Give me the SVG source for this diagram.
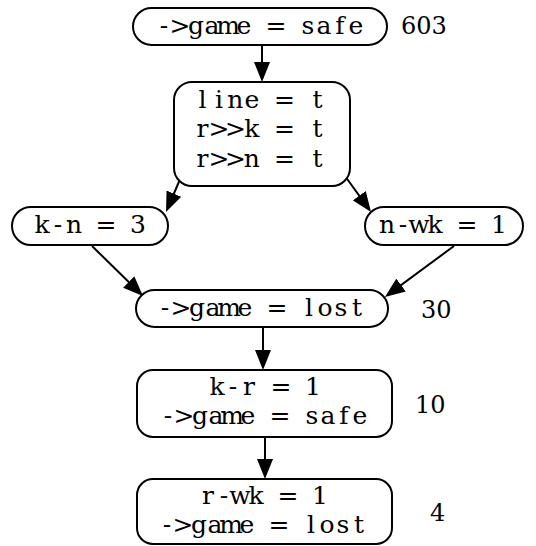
<svg xmlns="http://www.w3.org/2000/svg" width="536" height="546" viewBox="0 0 536 546">
<style>
.n{fill:#fff;stroke:#000;stroke-width:2}
.t{font-family:"DejaVu Serif","Liberation Serif",serif;font-size:25px;fill:#000;text-anchor:middle}
.c{font-family:"DejaVu Serif","Liberation Serif",serif;font-size:24px;fill:#000}
.e{stroke:#000;stroke-width:2;fill:none;marker-end:url(#ah)}
</style>
<defs>
<marker id="ah" markerUnits="userSpaceOnUse" markerWidth="20" markerHeight="16" refX="14" refY="8" orient="auto">
<path d="M0,0 L20,8 L0,16 z" fill="#000"/>
</marker>
</defs>
<rect width="536" height="546" fill="#fff"/>
<g id="edges">
<line class="e" x1="262" y1="45" x2="262" y2="76"/>
<line class="e" x1="181" y1="177" x2="168.4" y2="206.5"/>
<line class="e" x1="345" y1="176" x2="367.5" y2="207.1"/>
<line class="e" x1="92" y1="246" x2="138.7" y2="291.8"/>
<line class="e" x1="454" y1="246" x2="389.8" y2="293.4"/>
<line class="e" x1="263" y1="327" x2="263" y2="364"/>
<line class="e" x1="265" y1="437" x2="265" y2="473"/>
</g>
<g id="n1">
<rect class="n" x="133" y="8" width="254" height="37" rx="18.5"/>
<text class="t" x="164 180 196 212 228 244 260 276 292 308 324 340 356" y="34">-&gt;game = safe</text>
<text class="c" x="401" y="34">603</text>
</g>
<g id="n2">
<rect class="n" x="174" y="82" width="176" height="104" rx="18"/>
<text class="t" x="202.6 219 235.4 251.8 268.2 284.6 301 317.4" y="108">line = t</text>
<text class="t" x="202.6 219 235.4 251.8 268.2 284.6 301 317.4" y="137">r&gt;&gt;k = t</text>
<text class="t" x="202.6 219 235.4 251.8 268.2 284.6 301 317.4" y="167">r&gt;&gt;n = t</text>
</g>
<g id="n3">
<rect class="n" x="12" y="207" width="156" height="38" rx="19"/>
<text class="t" x="42 58 74 90 106 122 138" y="233">k-n = 3</text>
</g>
<g id="n4">
<rect class="n" x="365" y="207" width="158" height="38" rx="19"/>
<text class="t" x="387 403 419 435 451 467 483 499" y="233">n-wk = 1</text>
</g>
<g id="n5">
<rect class="n" x="136" y="290" width="252" height="37" rx="18.5"/>
<text class="t" x="165 181 197 213 229 245 261 277 293 309 325 341 357" y="316">-&gt;game = lost</text>
<text class="c" x="421" y="318">30</text>
</g>
<g id="n6">
<rect class="n" x="137" y="370" width="255" height="67" rx="16"/>
<text class="t" x="217 233 249 265 281 297 313" y="395">k-r = 1</text>
<text class="t" x="168 184 200 216 232 248 264 280 296 312 328 344 360" y="424">-&gt;game = safe</text>
<text class="c" x="415" y="413">10</text>
</g>
<g id="n7">
<rect class="n" x="137" y="479" width="255" height="65" rx="16"/>
<text class="t" x="208 224 240 256 272 288 304 320" y="504">r-wk = 1</text>
<text class="t" x="167 183 199 215 231 247 263 279 295 311 327 343 359" y="533">-&gt;game = lost</text>
<text class="c" x="430" y="521">4</text>
</g>
</svg>
